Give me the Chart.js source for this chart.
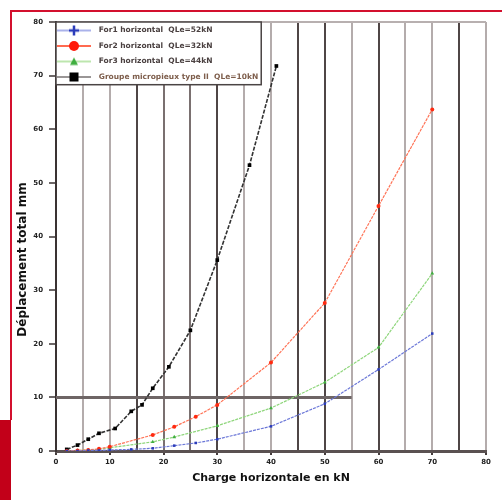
<!DOCTYPE html>
<html>
<head>
<meta charset="utf-8">
<script src="https://cdn.jsdelivr.net/npm/chart.js@4/dist/chart.umd.min.js"></script>
<style>
  html, body { margin: 0; padding: 0; background: #ffffff; }
  #wrap { position: relative; width: 502px; height: 500px; overflow: hidden; }
  #frameTop { position: absolute; left: 10px; top: 10px; width: 492px; height: 2px; background: #d3102e; }
  #frameLeft { position: absolute; left: 10px; top: 10px; width: 2px; height: 410px; background: #d3102e; }
  #frameBlock { position: absolute; left: 0; top: 420px; width: 11px; height: 80px; background: #c20019; }
  canvas { position: absolute; left: 0; top: 0; }
</style>
</head>
<body>
<div id="wrap">
  <div id="frameTop"></div>
  <div id="frameLeft"></div>
  <div id="frameBlock"></div>
  <canvas id="c" width="502" height="500"></canvas>
</div>
<script>
// ---- data ----
const seriesNames = [
  'For1 horizontal  QLe=52kN',
  'For2 horizontal  QLe=32kN',
  'For3 horizontal  QLe=44kN',
  'Groupe micropieux type II  QLe=10kN'
];
const for1Load = [2, 4, 6, 8, 10, 14, 18, 22, 26, 30, 40, 50, 60, 70];
const for1Disp = [0, 0, 0.1, 0.1, 0.2, 0.3, 0.5, 1.0, 1.5, 2.2, 4.6, 8.8, 15.2, 21.9];
const for2Load = [2, 4, 6, 8, 10, 18, 22, 26, 30, 40, 50, 60, 70];
const for2Disp = [0, 0.1, 0.2, 0.4, 0.8, 3.0, 4.5, 6.4, 8.6, 16.5, 27.6, 45.7, 63.7];
const for3Load = [2, 4, 6, 8, 10, 18, 22, 30, 40, 50, 60, 70];
const for3Disp = [0, 0.1, 0.2, 0.3, 0.6, 1.7, 2.6, 4.7, 8.0, 12.8, 19.3, 33.1];
const groupLoad = [2, 4, 6, 8, 11, 14, 16, 18, 21, 25, 30, 36, 41];
const groupDisp = [0.3, 1.1, 2.2, 3.3, 4.2, 7.4, 8.6, 11.7, 15.7, 22.5, 35.6, 53.3, 71.8];
const refLineLoad = [0, 55];
const refLineDisp = [10, 10];
const xTicksMin = 0, xTicksMax = 80, xStep = 5;
const yTicksMin = 0, yTicksMax = 80, yStep = 10;
const xTitle = 'Charge horizontale en kN';
const yTitle = 'Déplacement total mm';

function pts(xs, ys) { return xs.map((x, i) => ({ x: x, y: ys[i] })); }

// legend icons: line sample + marker
function makeIcon(lineColor, markerColor, shape) {
  const c = document.createElement('canvas');
  c.width = 45; c.height = 12;
  const g = c.getContext('2d');
  g.strokeStyle = lineColor; g.lineWidth = 2;
  g.beginPath(); g.moveTo(0, 6); g.lineTo(34, 6); g.stroke();
  const cx = 17, cy = 6;
  g.fillStyle = markerColor; g.strokeStyle = markerColor;
  if (shape === 'cross') {
    g.lineWidth = 2.5;
    g.beginPath(); g.moveTo(cx - 5, cy); g.lineTo(cx + 5, cy); g.moveTo(cx, cy - 5); g.lineTo(cx, cy + 5); g.stroke();
  } else if (shape === 'circle') {
    g.beginPath(); g.arc(cx, cy, 5, 0, Math.PI * 2); g.fill();
  } else if (shape === 'triangle') {
    g.beginPath(); g.moveTo(cx, cy - 4); g.lineTo(cx + 4, cy + 3.5); g.lineTo(cx - 4, cy + 3.5); g.closePath(); g.fill();
  } else {
    g.fillRect(cx - 4.5, cy - 4.5, 9, 9);
  }
  return c;
}
const icons = [
  makeIcon('#aab2ea', '#2b3cba', 'cross'),
  makeIcon('#ff6a50', '#ff1a0a', 'circle'),
  makeIcon('#bde6ae', '#3fae3f', 'triangle'),
  makeIcon('#9a9696', '#000000', 'square')
];
const legendTextColors = ['#4a4040', '#4a4040', '#4a4040', '#7e5e4c'];

function xGridColor(v) {
  const dark = [15, 30, 45, 50, 60, 75];
  const mid = [20, 25];
  if (dark.includes(v)) return '#4f4646';
  if (mid.includes(v)) return '#7a7070';
  return '#b4acac';
}

const legendFrame = {
  id: 'legendFrame',
  afterDraw(chart) {
    const lg = chart.legend;
    const hb = lg && lg.legendHitBoxes;
    if (!hb || !hb.length) return;
    const ctx = chart.ctx;
    const l = chart.chartArea.left, t = chart.chartArea.top;
    const r = Math.max(...hb.map(h => h.left + h.width)) + 3;
    const b = Math.max(...hb.map(h => h.top + h.height)) + 4;
    ctx.save();
    ctx.fillStyle = '#ffffff';
    ctx.fillRect(l, t, r - l, b - t);
    ctx.strokeStyle = '#4a4444';
    ctx.lineWidth = 1.5;
    ctx.strokeRect(l, t, r - l, b - t);
    ctx.restore();
    ctx.save();
    lg.draw();
    ctx.restore();
  }
};

new Chart(document.getElementById('c'), {
  type: 'line',
  data: {
    datasets: [
      { label: seriesNames[0], data: pts(for1Load, for1Disp), borderColor: '#6c78d8', backgroundColor: '#2b3cba',
        borderWidth: 1.2, borderDash: [3, 1], pointStyle: 'rect', pointRadius: 1.8, pointBorderWidth: 0, tension: 0 },
      { label: seriesNames[1], data: pts(for2Load, for2Disp), borderColor: '#ff7255', backgroundColor: '#ff2a10',
        borderWidth: 1.2, borderDash: [3, 1], pointStyle: 'circle', pointRadius: 2, pointBorderWidth: 0, tension: 0 },
      { label: seriesNames[2], data: pts(for3Load, for3Disp), borderColor: '#8fd67c', backgroundColor: '#3fae3f',
        borderWidth: 1.2, borderDash: [3, 1], pointStyle: 'triangle', pointRadius: 2.2, pointBorderWidth: 0, tension: 0 },
      { label: seriesNames[3], data: pts(groupLoad, groupDisp), borderColor: '#333333', backgroundColor: '#000000',
        borderWidth: 1.6, borderDash: [4, 1.5], pointStyle: 'rect', pointRadius: 2.6, pointBorderWidth: 0, tension: 0 },
      { label: 'ref', data: pts(refLineLoad, refLineDisp), borderColor: '#6e6565', borderWidth: 3,
        pointRadius: 0, tension: 0, order: 1 }
    ]
  },
  options: {
    responsive: false,
    animation: false,
    devicePixelRatio: 1,
    layout: { padding: { top: 22, right: 16, bottom: 0, left: 0 } },
    plugins: {
      tooltip: { enabled: false },
      legend: {
        position: 'chartArea',
        align: 'start',
        title: {
          display: true,
          text: ' ',
          font: { size: 1 },
          padding: { top: 17.5, bottom: 0 }
        },
        labels: {
          usePointStyle: true,
          pointStyleWidth: 31,
          padding: 8,
          font: { family: 'DejaVu Sans', size: 7.5, weight: 'bold' },
          filter: (item) => item.datasetIndex < 4,
          generateLabels(chart) {
            const items = Chart.defaults.plugins.legend.labels.generateLabels(chart);
            items.forEach(it => {
              if (it.datasetIndex < 4) {
                it.pointStyle = icons[it.datasetIndex];
                it.fontColor = legendTextColors[it.datasetIndex];
              }
            });
            return items;
          }
        }
      }
    },
    scales: {
      x: {
        type: 'linear',
        min: xTicksMin, max: xTicksMax,
        afterFit(scale) { scale.height = 49; },
        ticks: {
          stepSize: xStep,
          autoSkip: false,
          maxRotation: 0,
          padding: 3,
          color: '#222222',
          font: { family: 'DejaVu Sans', size: 7, weight: 'bold' },
          callback: (v) => (v % 10 === 0 ? String(v) : '')
        },
        grid: {
          color: (c) => xGridColor(c.tick ? c.tick.value : 0),
          lineWidth: 2,
          tickLength: 4,
          tickColor: (c) => (c.tick && c.tick.value % 10 === 0 ? '#443c3c' : 'rgba(0,0,0,0)'),
          tickWidth: 2
        },
        border: { display: true, color: '#5a5151', width: 3 },
        title: {
          display: true, text: xTitle, color: '#111111',
          font: { family: 'DejaVu Sans', size: 11, weight: 'bold' },
          padding: { top: 2, bottom: 15 }
        }
      },
      y: {
        type: 'linear',
        min: yTicksMin, max: yTicksMax,
        afterFit(scale) { scale.width = 56; },
        ticks: {
          stepSize: yStep,
          padding: 6,
          color: '#222222',
          font: { family: 'DejaVu Sans', size: 7, weight: 'bold' }
        },
        grid: {
          color: (c) => (c.tick && c.tick.value === yTicksMax ? '#b8b0b0' : 'rgba(0,0,0,0)'),
          lineWidth: 2,
          tickLength: 7,
          tickColor: '#3d3535',
          tickWidth: 1.5
        },
        border: { display: true, color: '#3a3232', width: 2 },
        title: {
          display: true,
          text: yTitle + '\u00a0\u00a0\u00a0\u00a0\u00a0\u00a0\u00a0\u00a0\u00a0\u00a0\u00a0',
          color: '#111111',
          font: { family: 'DejaVu Sans', size: 12, weight: 'bold' },
          padding: { top: 16, bottom: 0 }
        }
      }
    }
  },
  plugins: [legendFrame]
});
</script>
</body>
</html>
